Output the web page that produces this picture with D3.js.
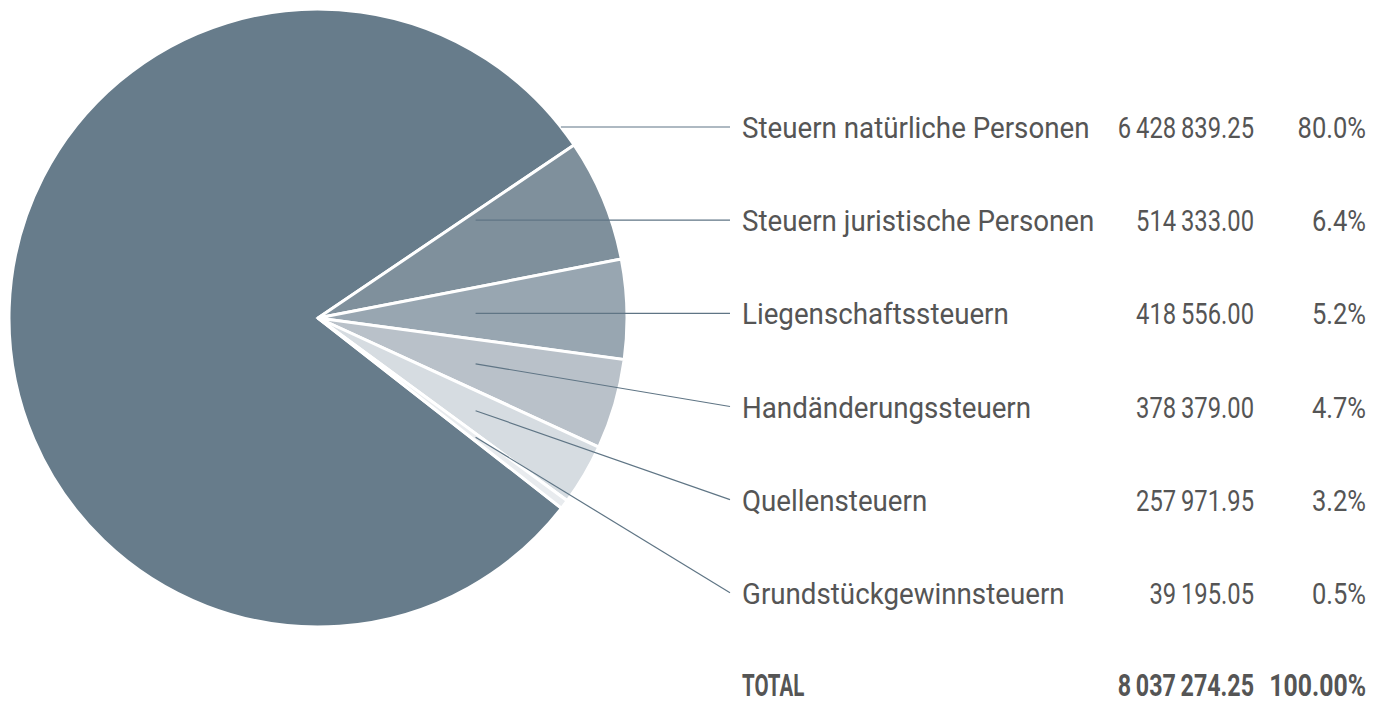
<!DOCTYPE html>
<html>
<head>
<meta charset="utf-8">
<script src="https://cdn.jsdelivr.net/npm/d3@7"></script>
<style>
  body { margin: 0; background: #fff; }
  svg { display: block; }
</style>
</head>
<body>
<svg id="canvas"></svg>
<script>
const svg = d3.select("#canvas")
  .attr("width", 1387)
  .attr("height", 704);

// data
const categories = [
  "Steuern natürliche Personen",
  "Steuern juristische Personen",
  "Liegenschaftssteuern",
  "Handänderungssteuern",
  "Quellensteuern",
  "Grundstückgewinnsteuern"
];
const values = [6428839.25, 514333.00, 418556.00, 378379.00, 257971.95, 39195.05];
const colors = ["#677c8b", "#7f909c", "#98a6b1", "#b9c1c9", "#d6dce1", "#e8ebee"];
const totalLabel = "TOTAL";

const total = d3.sum(values);
const rows = categories.map((c, i) => ({ name: c, value: values[i], color: colors[i], i }));

// layout
const cx = 318, cy = 318, r = 309;
const lineEndX = 730, textX = 742, valueX = 1254, pctX = 1366;
const rowY = d3.scaleLinear().domain([0, 6]).range([138, 697]); // text baselines

const loc = d3.formatLocale({ decimal: ".", thousands: "\u2009", grouping: [3], currency: ["", ""] });
const fmtVal = loc.format(",.2f");
const fmtPct = d3.format(".1%");
const fmtPctTot = d3.format(".2%");

const pie = d3.pie()
  .sort(null)
  .value(d => d.value)
  .startAngle(128 * Math.PI / 180)
  .endAngle(128 * Math.PI / 180 + 2 * Math.PI);

const arc = d3.arc().innerRadius(0).outerRadius(r);
const arcs = pie(rows);

const g = svg.append("g").attr("transform", `translate(${cx},${cy})`);

g.selectAll("path.slice")
  .data(arcs)
  .join("path")
  .attr("class", "slice")
  .attr("d", arc)
  .attr("fill", d => d.data.color)
  .attr("stroke", "#fff")
  .attr("stroke-width", 3)
  .attr("stroke-linejoin", "miter");

// leader lines: horizontal if the label row crosses the slice, else from the slice middle
const anchorX = 0.51 * r;
function norm(a) { a = a % (2 * Math.PI); return a < 0 ? a + 2 * Math.PI : a; }
function leaderStart(d) {
  const ly = rowY(d.data.i) - 11 - cy;
  if (d.data.i === 0) {
    // big slice: start at its outer edge
    return [Math.sqrt(r * r - ly * ly), ly];
  }
  const a = norm(Math.atan2(anchorX, -ly));
  const s = norm(d.startAngle), e = norm(d.endAngle);
  if (a > s + 0.02 && a < e - 0.02) return [anchorX, ly];
  const m = (d.startAngle + d.endAngle) / 2;
  return [anchorX, -anchorX / Math.tan(m)];
}

g.selectAll("line.leader")
  .data(arcs)
  .join("line")
  .attr("class", "leader")
  .attr("x1", d => leaderStart(d)[0])
  .attr("y1", d => leaderStart(d)[1])
  .attr("x2", lineEndX - cx)
  .attr("y2", d => rowY(d.data.i) - 11 - cy)
  .attr("stroke", "#5f7585")
  .attr("stroke-width", 1.2);

// table, condensed by a horizontal squeeze (no condensed font installed)
const table = svg.append("g")
  .attr("font-family", "Roboto, sans-serif")
  .attr("font-size", 29)
  .attr("fill", "#555");

function cell(parent, x, y, txt, anchor, sx) {
  return parent.append("text")
    .attr("transform", `translate(${x},${y}) scale(${sx},1)`)
    .attr("text-anchor", anchor)
    .text(txt);
}

rows.forEach(d => {
  const y = rowY(d.i);
  cell(table, textX, y, d.name, "start", 0.956);
  cell(table, valueX, y, fmtVal(d.value), "end", 0.82);
  cell(table, pctX, y, fmtPct(d.value / total), "end", 0.88);
});

const tot = table.append("g").attr("font-weight", "bold").attr("font-size", 31);
const ty = rowY(6) - 1;
cell(tot, textX, ty, totalLabel, "start", 0.66);
cell(tot, valueX, ty, fmtVal(total), "end", 0.75);
cell(tot, pctX, ty, fmtPctTot(1), "end", 0.8);
</script>
</body>
</html>
